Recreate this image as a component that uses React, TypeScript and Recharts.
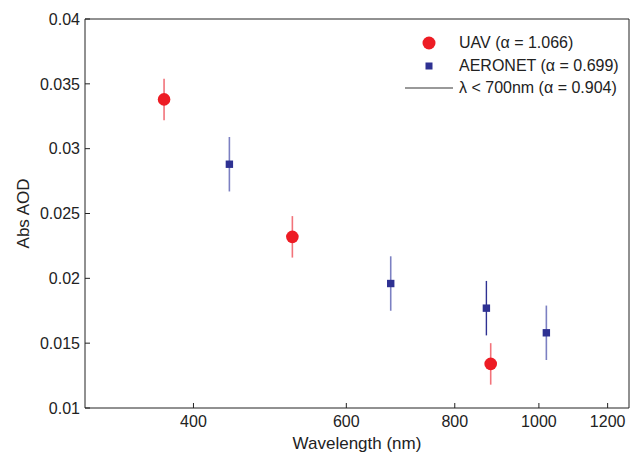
import { ScatterChart, Scatter, XAxis, YAxis, ErrorBar, Legend, Label } from "recharts";

const uavWavelength = [370, 520, 880];
const uavAod = [0.0338, 0.0232, 0.0134];
const uavErr = [0.0016, 0.0016, 0.0016];

const aeronetWavelength = [440, 675, 870, 1020];
const aeronetAod = [0.0288, 0.0196, 0.0177, 0.0158];
const aeronetErr = [0.0021, 0.0021, 0.0021, 0.0021];
// the 870 nm AERONET bar is drawn darker in the figure
const aeronetDarkIndex = 2;

const xTicks = [400, 600, 800, 1000, 1200];
const yTicks = [0.01, 0.015, 0.02, 0.025, 0.03, 0.035, 0.04];
const legendLabels = ["UAV (α = 1.066)", "AERONET (α = 0.699)", "λ < 700nm (α = 0.904)"];

const RED = "#ed1c24";
const NAVY = "#2e3192";
const AXIS = "#222";
const FONT = "'Liberation Sans', Arial, sans-serif";

const uavData = uavWavelength.map((x, i) => ({ x, y: uavAod[i], err: uavErr[i] }));
const aeronetAll = aeronetWavelength.map((x, i) => ({ x, y: aeronetAod[i], err: aeronetErr[i] }));
const aeronetData = aeronetAll.filter((_, i) => i !== aeronetDarkIndex);
const aeronetDark = aeronetAll.filter((_, i) => i === aeronetDarkIndex);

const Circle = (p: any) => <circle cx={p.cx} cy={p.cy} r={6.3} fill={RED} />;
const Square = (p: any) => <rect x={p.cx - 3.7} y={p.cy - 3.7} width={7.4} height={7.4} fill={NAVY} />;

const LegendBox = () => {
    const row = { display: "flex", alignItems: "center", height: 22.5 };
    const mark = { width: 59, display: "flex", justifyContent: "center" } as const;
    return (
        <div style={{ fontFamily: FONT, fontSize: 16, color: AXIS, whiteSpace: "nowrap" }}>
            <div style={row}>
                <div style={mark}>
                    <svg width={60} height={16}><circle cx={29} cy={8} r={6.5} fill={RED} /></svg>
                </div>
                <span>{legendLabels[0]}</span>
            </div>
            <div style={row}>
                <div style={mark}>
                    <svg width={60} height={16}><rect x={25.5} y={4.5} width={7} height={7} fill={NAVY} /></svg>
                </div>
                <span>{legendLabels[1]}</span>
            </div>
            <div style={row}>
                <div style={mark}>
                    <svg width={60} height={16}><line x1={5} x2={53} y1={8} y2={8} stroke="#777" strokeWidth={1.5} /></svg>
                </div>
                <span>{legendLabels[2]}</span>
            </div>
        </div>
    );
};

const tickStyle = { fill: AXIS, fontSize: 16, fontFamily: FONT };

export default function App() {
    return (
        <div style={{ width: 630, height: 452, background: "#fff" }}>
            <style>{"body{margin:0}"}</style>
            <ScatterChart width={630} height={452} margin={{ top: 18, right: 0, bottom: 0, left: 0 }}>
                <XAxis
                    dataKey="x"
                    type="number"
                    scale="log"
                    domain={[300, 1270]}
                    allowDataOverflow
                    ticks={xTicks}
                    height={44}
                    tickSize={-5}
                    tickMargin={13}
                    tick={tickStyle}
                    stroke={AXIS}
                >
                    <Label value="Wavelength (nm)" position="center" dy={13} style={{ fill: AXIS, fontSize: 17, fontFamily: FONT }} />
                </XAxis>
                <XAxis
                    xAxisId="top"
                    dataKey="x"
                    orientation="top"
                    type="number"
                    scale="log"
                    domain={[300, 1270]}
                    allowDataOverflow
                    ticks={xTicks}
                    height={1}
                    tickSize={-5}
                    tick={false}
                    stroke={AXIS}
                />
                <YAxis
                    dataKey="y"
                    type="number"
                    domain={[0.01, 0.04]}
                    ticks={yTicks}
                    width={85}
                    tickSize={-5}
                    tickMargin={10}
                    tick={tickStyle}
                    stroke={AXIS}
                >
                    <Label value="Abs AOD" angle={-90} position="center" dx={-20} style={{ fill: AXIS, fontSize: 17, fontFamily: FONT }} />
                </YAxis>
                <YAxis
                    yAxisId="right"
                    dataKey="y"
                    orientation="right"
                    type="number"
                    domain={[0.01, 0.04]}
                    ticks={yTicks}
                    width={1}
                    tickSize={-5}
                    tick={false}
                    stroke={AXIS}
                />
                <Legend
                    layout="horizontal"
                    align="center"
                    verticalAlign="middle"
                    wrapperStyle={{ top: 32, left: 400, width: 230 }}
                    content={() => <LegendBox />}
                />
                <Scatter name="UAV" data={uavData} shape={Circle} isAnimationActive={false}>
                    <ErrorBar dataKey="err" direction="y" width={0} stroke="#f2737a" strokeWidth={1.6} />
                </Scatter>
                <Scatter name="AERONET" data={aeronetData} shape={Square} isAnimationActive={false}>
                    <ErrorBar dataKey="err" direction="y" width={0} stroke="#7c80c2" strokeWidth={1.6} />
                </Scatter>
                <Scatter name="AERONET dark" data={aeronetDark} shape={Square} isAnimationActive={false} legendType="none">
                    <ErrorBar dataKey="err" direction="y" width={0} stroke={NAVY} strokeWidth={1.4} />
                </Scatter>
                <Scatter data={uavData} xAxisId="top" yAxisId="right" shape={() => null} isAnimationActive={false} legendType="none" />
            </ScatterChart>
        </div>
    );
}
